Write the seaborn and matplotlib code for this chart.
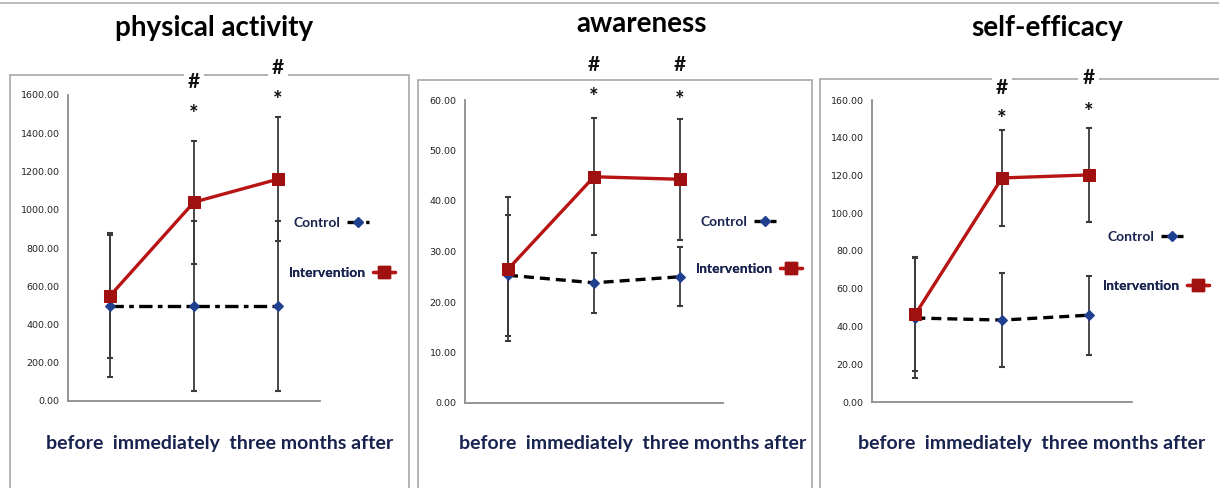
import numpy as np
import pandas as pd
import matplotlib
matplotlib.use("Agg")
import matplotlib.pyplot as plt
from matplotlib.lines import Line2D
from matplotlib.transforms import blended_transform_factory
import seaborn as sns

# ---------------- data ----------------
categories = ["before", "immediately", "three months after"]
titles = ["physical activity", "awareness", "self-efficacy"]

pa_intervention = [550, 1040, 1160]
pa_intervention_sd = [327, 322, 325]
pa_control = [495, 495, 495]
pa_control_sd = [372, 445, 445]

aw_intervention = [26.5, 44.8, 44.3]
aw_intervention_sd = [14.3, 11.6, 12.0]
aw_control = [25.3, 23.8, 25.0]
aw_control_sd = [12.0, 6.0, 5.8]

se_intervention = [46.5, 118.7, 120.3]
se_intervention_sd = [30.2, 25.2, 25.0]
se_control = [44.5, 43.4, 46.0]
se_control_sd = [32.0, 25.0, 21.0]

y_max = [1600, 60, 160]
y_step = [200, 10, 20]
sig_marks = ["#", "*"]
legend_labels = ["Control", "Intervention"]

# ---------------- style ----------------
sns.set_style("white")
plt.rcParams["font.family"] = ["Lato", "DejaVu Sans"]

RED = "#b81414"
BLUE = "#1f3f8f"
NAVY = "#18234f"
GRAY = "#8c8c8c"
FRAME = "#a8a8a8"

fig = plt.figure(figsize=(12.19, 4.88), dpi=100)

# background layer with panel frames
bg = fig.add_axes([0, 0, 1, 1], zorder=-1)
bg.set_xlim(0, 1219)
bg.set_ylim(488, 0)
bg.axis("off")
bg.plot([0, 1219], [2.5, 2.5], color="#b0b0b0", lw=1.2)
frames = [(10, 409, 75), (418, 812, 80), (820, 1230, 79)]
for x0, x1, top in frames:
    bg.plot([x0, x0, x1, x1], [500, top, top, 500], color=FRAME, lw=1.2,
            solid_joinstyle="miter")

panels = [
    dict(inter=pa_intervention, inter_sd=pa_intervention_sd,
         ctrl=pa_control, ctrl_sd=pa_control_sd,
         rect=[68/1219, 1-401/488, 252/1219, 306/488], dash=(4, 1.6, 1.4, 1.6),
         sig=[(1.042, 0.935), (1.088, 0.981)],
         leg=[(0.893, 0.582), (0.877, 0.418)],
         title=(214, 28), catx=220),
    dict(inter=aw_intervention, inter_sd=aw_intervention_sd,
         ctrl=aw_control, ctrl_sd=aw_control_sd,
         rect=[465/1219, 1-403/488, 258/1219, 303/488], dash=(3, 1.8),
         sig=[(1.116, 1.008), (1.116, 0.998)],
         leg=[(0.911, 0.597), (0.895, 0.442)],
         title=(642, 24), catx=633),
    dict(inter=se_intervention, inter_sd=se_intervention_sd,
         ctrl=se_control, ctrl_sd=se_control_sd,
         rect=[872/1219, 1-402/488, 260/1219, 302/488], dash=(3, 1.8),
         sig=[(1.040, 0.935), (1.073, 0.958)],
         leg=[(0.904, 0.546), (0.888, 0.383)],
         title=(1047, 28), catx=1032),
]

for i, p in enumerate(panels):
    ax = fig.add_axes(p["rect"])
    ax.set_facecolor("none")
    df = pd.DataFrame({"time": categories,
                       "Intervention": p["inter"], "Control": p["ctrl"],
                       "isd": p["inter_sd"], "csd": p["ctrl_sd"]})
    xpos = np.arange(len(categories))

    ax.errorbar(xpos, df["Intervention"], yerr=df["isd"], fmt="none",
                ecolor="#3a3a3a", elinewidth=1.3, capsize=2.5, capthick=1.5, zorder=2)
    ax.errorbar(xpos, df["Control"], yerr=df["csd"], fmt="none",
                ecolor="#3a3a3a", elinewidth=1.3, capsize=2.5, capthick=1.5, zorder=2)

    sns.lineplot(data=df, x="time", y="Control", ax=ax, sort=False,
                 color="black", lw=2.4, marker="D", markersize=5,
                 markerfacecolor=BLUE, markeredgecolor=BLUE,
                 dashes=p["dash"], zorder=3)
    sns.lineplot(data=df, x="time", y="Intervention", ax=ax, sort=False,
                 color=RED, lw=2.4, marker="s", markersize=8,
                 markerfacecolor="#a01010", markeredgecolor="#a01010", zorder=4)

    ax.set_xlim(-0.5, 2.5)
    ax.set_ylim(0, y_max[i])
    ax.set_xticks([-0.5, 0.5, 1.5, 2.5])
    ax.set_xticklabels([])
    yt = np.arange(0, y_max[i] + 0.1, y_step[i])
    ax.set_yticks(yt)
    ax.set_yticklabels([f"{v:.2f}" for v in yt],
                       fontsize=6.8, family="DejaVu Sans", color="#222222")
    ax.set_xlabel("")
    ax.set_ylabel("")
    for side in ["top", "right"]:
        ax.spines[side].set_visible(False)
    for side in ["left", "bottom"]:
        ax.spines[side].set_color(GRAY)
        ax.spines[side].set_linewidth(1.3)
    ax.tick_params(axis="x", direction="out", length=5, width=1, color=GRAY)
    ax.tick_params(axis="y", direction="out", length=3, width=1, color=GRAY, pad=3)

    # significance marks
    tr = blended_transform_factory(ax.transData, ax.transAxes)
    for k, (yh, ys) in enumerate(p["sig"]):
        xk = k + 1
        ax.text(xk, yh, sig_marks[0], transform=tr, ha="center", va="center",
                fontsize=15, fontweight="bold", color="#111111", clip_on=False,
                bbox=dict(facecolor="white", edgecolor="none", pad=3), zorder=6)
        ax.text(xk, ys, sig_marks[1], transform=tr, ha="center", va="center",
                fontsize=16, fontweight="bold", color="#111111", clip_on=False, zorder=6)

    # legend (two independent entries, text first)
    handles = [
        Line2D([], [], color="black", lw=2.4, dashes=p["dash"], marker="D",
               markersize=5, markerfacecolor=BLUE, markeredgecolor=BLUE,
               markevery=[1]),
        Line2D([], [], color=RED, lw=2.4, marker="s", markersize=8,
               markerfacecolor="#a01010", markeredgecolor="#a01010"),
    ]
    for h, lab, (lx, ly) in zip(handles, legend_labels, p["leg"]):
        leg = ax.legend([h], [lab], markerfirst=False, frameon=False,
                        loc="center left", bbox_to_anchor=(lx, ly),
                        borderaxespad=0, borderpad=0,
                        handlelength=1.6, handletextpad=0.5,
                        prop=dict(size=10, weight="bold"))
        for t in leg.get_texts():
            t.set_color(NAVY)
        ax.add_artist(leg)

    # title and category row
    fig.text(p["title"][0] / 1219, 1 - p["title"][1] / 488, titles[i],
             ha="center", va="center", fontsize=20, fontweight="bold", color="black")
    fig.text(p["catx"] / 1219, 1 - 443 / 488, "  ".join(categories),
             ha="center", va="center", fontsize=14, fontweight="bold", color=NAVY)

fig.savefig("out.png", dpi=100)
